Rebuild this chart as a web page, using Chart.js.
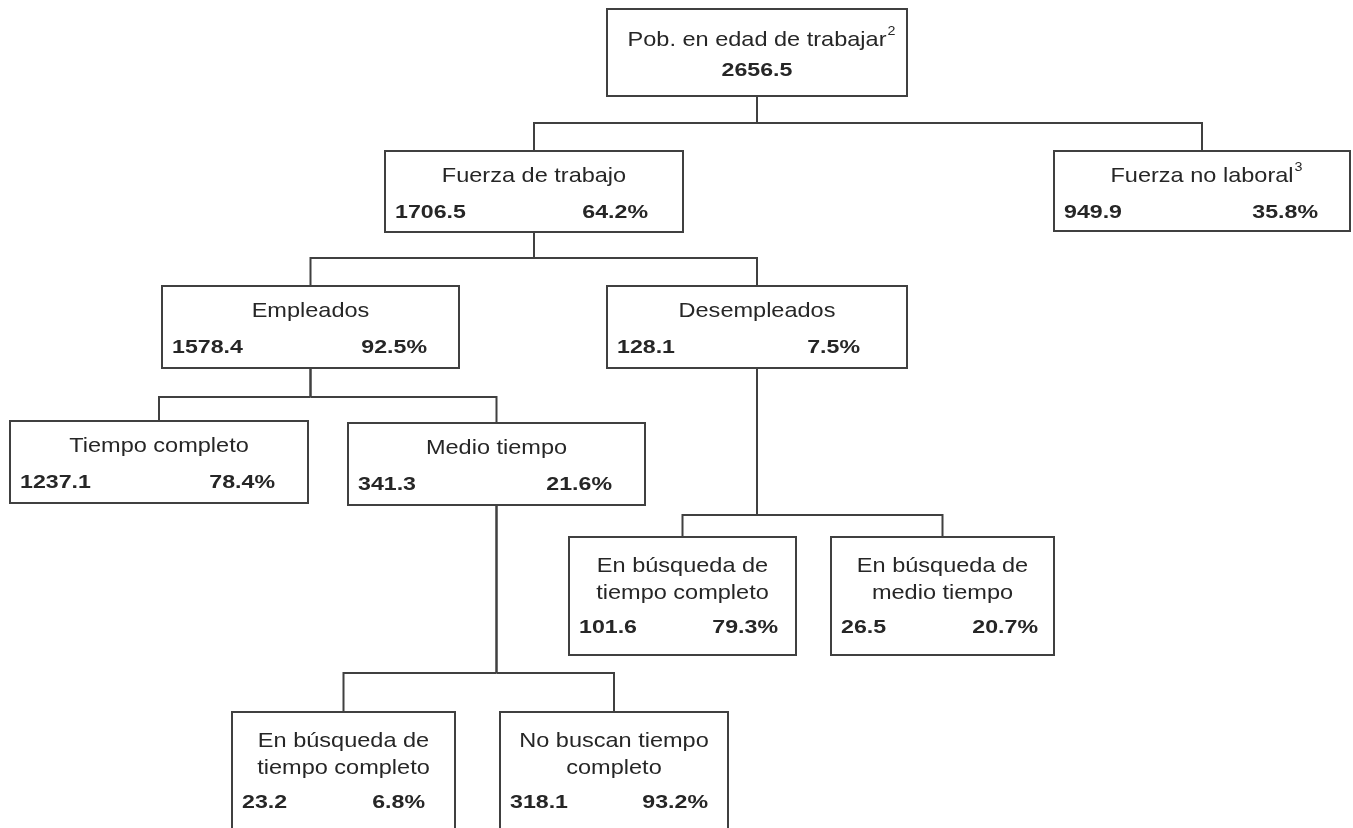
<!DOCTYPE html>
<html lang="es">
<head>
<meta charset="utf-8">
<title>Población en edad de trabajar</title>
<script src="https://cdn.jsdelivr.net/npm/chart.js@4/dist/chart.umd.min.js"></script>
<style>
  body { margin: 0; background: #fff; }
  #arbolChart { display: block; }
</style>
</head>
<body>
<canvas id="arbolChart" width="1353" height="828"></canvas>
<script>
/* Datos del diagrama */

const nombres = [
    ["Pob. en edad de trabajar"],
    ["Fuerza de trabajo"],
    ["Fuerza no laboral"],
    ["Empleados"],
    ["Desempleados"],
    ["Tiempo completo"],
    ["Medio tiempo"],
    ["En búsqueda de", "tiempo completo"],
    ["En búsqueda de", "medio tiempo"],
    ["En búsqueda de", "tiempo completo"],
    ["No buscan tiempo", "completo"]
];
const notas = ["2", "", "3", "", "", "", "", "", "", "", ""];
const valores = [2656.5, 1706.5, 949.9, 1578.4, 128.1, 1237.1, 341.3, 101.6, 26.5, 23.2, 318.1];
const porcentajes = [null, 64.2, 35.8, 92.5, 7.5, 78.4, 21.6, 79.3, 20.7, 6.8, 93.2];
const padres = [null, 0, 0, 1, 1, 3, 3, 4, 4, 6, 6];

/* Posición de cada caja (izq, arriba, der, abajo) en unidades de los ejes */

const cajas = [
    [607, 9, 907, 96],
    [385, 151, 683, 232],
    [1054, 151, 1350, 231],
    [162, 286, 459, 368],
    [607, 286, 907, 368],
    [10, 421, 308, 503],
    [348, 423, 645, 505],
    [569, 537, 796, 655],
    [831, 537, 1054, 655],
    [232, 712, 455, 860],
    [500, 712, 728, 860]
];
const lineaBus = [123, 258, null, 397, 515, null, 673, null, null, null, null]; // altura de la línea horizontal bajo cada padre
const margenPct = [0, 35, 32, 32, 47, 33, 33, 18, 16, 30, 20];

const colorLinea = "#404040";
const colorTexto = "#262626";

/* Función para texto estirado a lo ancho */

const texto = (ctx, str, x, y, align, escala) => {
    ctx.save();
    ctx.translate(x, y);
    ctx.scale(escala, 1);
    ctx.textAlign = align;
    ctx.fillText(str, 0, 0);
    ctx.restore();
}

/* Plugin que dibuja conectores y cajas */

const arbolPlugin = {
    id: "arbol",
    afterDatasetsDraw(chart) {
        const ctx = chart.ctx;
        const sx = chart.scales.x;
        const sy = chart.scales.y;
        const px = (v) => sx.getPixelForValue(v);
        const py = (v) => sy.getPixelForValue(v);
        const centro = (i) => (cajas[i][0] + cajas[i][2]) / 2;

        ctx.save();
        ctx.strokeStyle = colorLinea;
        ctx.lineWidth = 2;

        // conectores
        padres.forEach((p, i) => {
            if (p === null) return;
            const bus = lineaBus[p];
            ctx.beginPath();
            ctx.moveTo(px(centro(p)), py(cajas[p][3]));
            ctx.lineTo(px(centro(p)), py(bus));
            ctx.moveTo(px(centro(p)), py(bus));
            ctx.lineTo(px(centro(i)), py(bus));
            ctx.lineTo(px(centro(i)), py(cajas[i][1]));
            ctx.stroke();
        });

        // cajas y textos
        cajas.forEach((c, i) => {
            const x1 = px(c[0]), y1 = py(c[1]), x2 = px(c[2]), y2 = py(c[3]);
            ctx.fillStyle = "#fff";
            ctx.fillRect(x1, y1, x2 - x1, y2 - y1);
            ctx.strokeRect(x1, y1, x2 - x1, y2 - y1);

            ctx.fillStyle = colorTexto;
            ctx.textBaseline = "middle";
            const cx = px(centro(i));
            const lineas = nombres[i];
            const dosLineas = lineas.length > 1;

            ctx.font = "21px 'Liberation Sans', Arial, sans-serif";
            lineas.forEach((l, k) => {
                const ly = dosLineas ? y1 + 29 + k * 27 : y1 + (i === 0 ? 31 : 25);
                texto(ctx, l, cx, ly, "center", 1.12);
                if (notas[i] && k === 0) {
                    const w = ctx.measureText(l).width * 1.12;
                    ctx.font = "13px 'Liberation Sans', Arial, sans-serif";
                    texto(ctx, notas[i], cx + w / 2 + 1, ly - 9, "left", 1.1);
                    ctx.font = "21px 'Liberation Sans', Arial, sans-serif";
                }
            });

            ctx.font = "bold 19px 'Liberation Sans', Arial, sans-serif";
            const vy = dosLineas ? y1 + 91 : y1 + 62;
            if (porcentajes[i] === null) {
                texto(ctx, valores[i].toFixed(1), cx, vy, "center", 1.22);
            } else {
                texto(ctx, valores[i].toFixed(1), x1 + 10, vy, "left", 1.22);
                texto(ctx, porcentajes[i].toFixed(1) + "%", x2 - margenPct[i], vy, "right", 1.22);
            }
        });
        ctx.restore();
    }
}

/* Configuración del gráfico */

const config = {
    type: "scatter",
    data: {
        datasets: [{
            label: "Nodos",
            data: cajas.map((c) => ({x: (c[0] + c[2]) / 2, y: c[1]})),
            pointRadius: 0
        }]
    },
    options: {
        responsive: false,
        animation: false,
        layout: { padding: 0 },
        scales: {
            x: { type: "linear", min: 0, max: 1353, display: false },
            y: { type: "linear", min: 0, max: 828, reverse: true, display: false }
        },
        plugins: {
            legend: { display: false },
            tooltip: { enabled: false }
        }
    },
    plugins: [arbolPlugin]
}

const arbolChart = new Chart(document.getElementById("arbolChart"), config);
</script>
</body>
</html>
